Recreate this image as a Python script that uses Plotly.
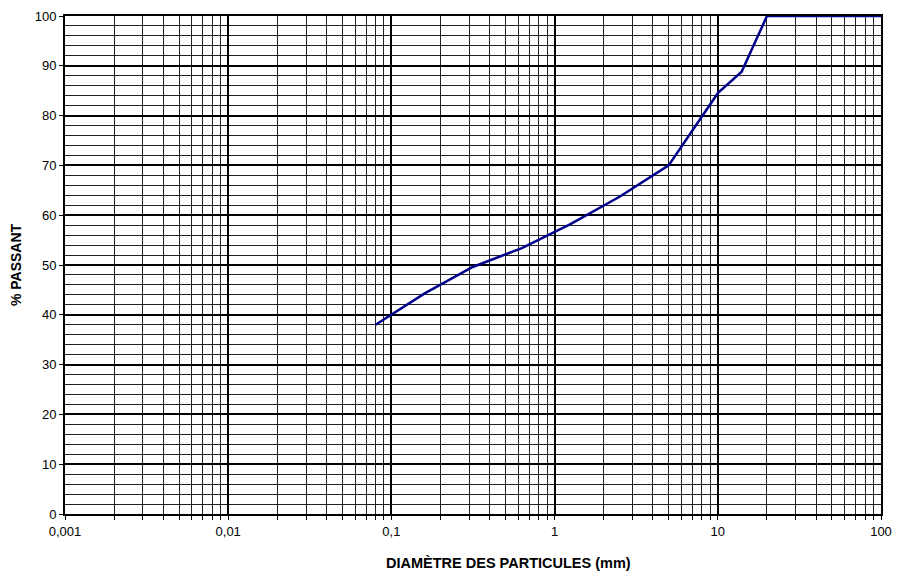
import plotly.graph_objects as go

# granulometric curve
diameter_mm = [0.08, 0.16, 0.315, 0.63, 1.25, 2.5, 5, 10, 14, 20, 100]
pct_passing = [38, 44.3, 49.6, 53.4, 58.2, 63.7, 70, 84.5, 88.8, 100, 100]

x_tickvals = [0.001, 0.01, 0.1, 1, 10, 100]
x_ticktext = ["0,001", "0,01", "0,1", "1", "10", "100"]
y_tickvals = [0, 10, 20, 30, 40, 50, 60, 70, 80, 90, 100]

FONT = "Liberation Sans, Arial"

fig = go.Figure()

fig.add_trace(go.Scatter(
    x=diameter_mm, y=pct_passing,
    mode="lines",
    line=dict(color="#00008B", width=2.5),
    showlegend=False,
))

fig.update_xaxes(
    type="log",
    range=[-3, 2],
    tickvals=x_tickvals, ticktext=x_ticktext,
    showgrid=True, gridcolor="black", gridwidth=2,
    showline=True, linecolor="black", linewidth=2, mirror=True,
    ticks="outside", ticklen=4, tickcolor="black",
    minor=dict(showgrid=True, gridcolor="#222222", gridwidth=1,
               dtick="D1", ticks="outside", ticklen=4, tickcolor="black"),
    tickfont=dict(family=FONT, size=13, color="black"),
    zeroline=False,
    automargin=False,
)

fig.update_yaxes(
    range=[0, 100],
    tickvals=y_tickvals,
    showgrid=True, gridcolor="black", gridwidth=2,
    showline=True, linecolor="black", linewidth=2, mirror=True,
    ticks="outside", ticklen=4, tickcolor="black",
    minor=dict(showgrid=True, gridcolor="#222222", gridwidth=1, dtick=2),
    tickfont=dict(family=FONT, size=13, color="black"),
    title=dict(text="<b>% PASSANT</b>", standoff=10,
               font=dict(family=FONT, size=14, color="black")),
    zeroline=False,
    automargin=False,
)

# x title sits a bit right of centre in the original, so place it by hand
fig.add_annotation(
    text="<b>DIAMÈTRE DES PARTICULES (mm)</b>",
    xref="paper", yref="paper", x=0.543, y=0,
    xanchor="center", yanchor="middle", yshift=-48.5,
    showarrow=False,
    font=dict(family=FONT, size=14.5, color="black"),
)

# page body adds an 8px offset, margins compensate for it
fig.update_layout(
    width=905, height=572,
    plot_bgcolor="white", paper_bgcolor="white",
    margin=dict(l=57, r=32, t=8, b=66),
)

fig.write_html("out.html")
